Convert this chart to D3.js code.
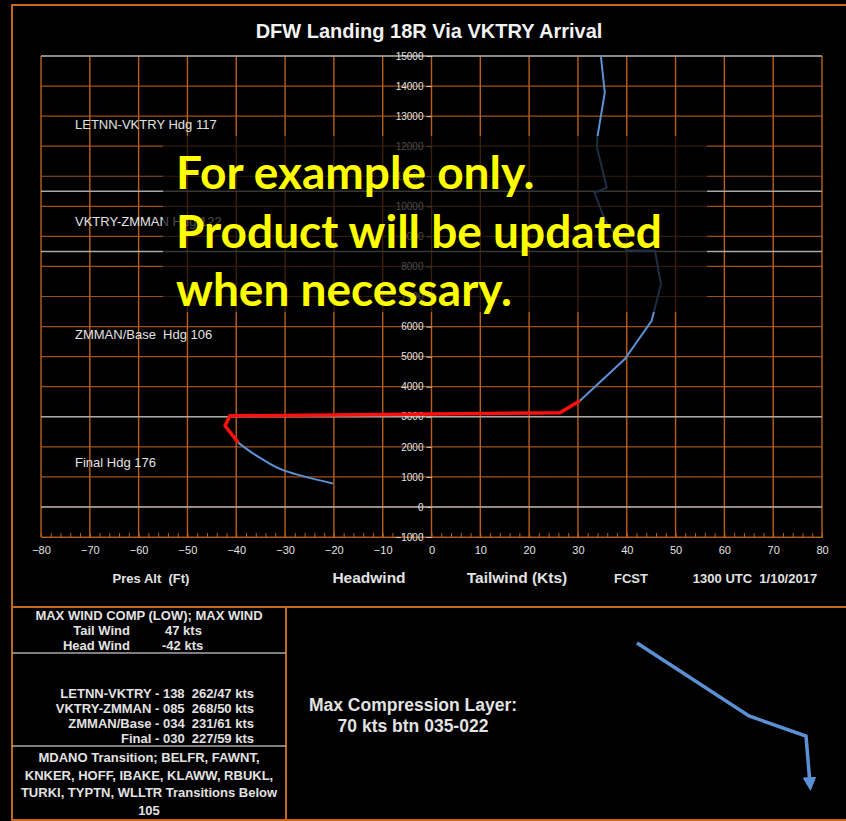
<!DOCTYPE html>
<html>
<head>
<meta charset="utf-8">
<script src="https://cdn.jsdelivr.net/npm/d3@7"></script>
<style>
  body { margin: 0; background: #000; }
  svg { display: block; font-family: "Liberation Sans", Arial, sans-serif; }
  text { white-space: pre; }
</style>
</head>
<body>
<svg id="chart"></svg>
<script>
const width = 846;
const height = 821;

// wind component profile, kts vs pressure altitude (ft)
const windKts = [34.7, 35.5, 34.0, 33.9, 35.9, 33.4, 35.6, 40.0, 45.8, 47.0, 45.1, 39.6, 30.4];
const windAlt = [15000, 13780, 12320, 11960, 10620, 10450, 9510, 8540, 8520, 7420, 6190, 4920, 3530];
const lowKts = [-39.6, -35.1, -30.0, -20.2];
const lowAlt = [2140, 1630, 1200, 780];
// max compression layer (red)
const compKts = [30.4, 26.3, -41.3, -42.3, -39.6];
const compAlt = [3530, 3130, 3030, 2700, 2140];

// layer boundaries and their names
const layerAlts = [15000, 10500, 8500, 3000, 0];
const layerNames = ["LETNN-VKTRY Hdg 117", "VKTRY-ZMMAN Hdg 122", "ZMMAN/Base  Hdg 106", "Final Hdg 176"];

const xTicks = d3.range(-80, 81, 10);
const xMinor = d3.range(-80, 81, 2);
const yTicks = d3.range(-1000, 15001, 1000);

const title = "DFW Landing 18R Via VKTRY Arrival";
const axisTitles = ["Pres Alt  (Ft)", "Headwind", "Tailwind (Kts)", "FCST", "1300 UTC  1/10/2017"];
const maxComp = ["MAX WIND COMP (LOW); MAX WIND"];
const maxNames = ["Tail Wind", "Head Wind"];
const maxVals = ["47 kts", "-42 kts"];
const legRows = ["LETNN-VKTRY - 138  262/47 kts", "VKTRY-ZMMAN - 085  268/50 kts", "ZMMAN/Base - 034  231/61 kts", "Final - 030  227/59 kts"];
const transRows = ["MDANO Transition; BELFR, FAWNT,", "KNKER, HOFF, IBAKE, KLAWW, RBUKL,", "TURKI, TYPTN, WLLTR Transitions Below", "105"];
const compText = ["Max Compression Layer:", "70 kts btn 035-022"];
const noteText = ["For example only.", "Product will be updated", "when necessary."];

const orange = "#c4671f";
const gridV = "#b9601c";
const gridH = "#9c521b";
const grey = "#a8a8a8";
const txt = "#e2e2e2";

const svg = d3.select("#chart")
    .attr("width", width)
    .attr("height", height);

svg.append("rect").attr("width", width).attr("height", height).attr("fill", "#000");

const x = d3.scaleLinear().domain([-80, 80]).range([41, 822]);
const y = d3.scaleLinear().domain([-1000, 15000]).range([537, 56]);

// frames
svg.append("rect")
    .attr("x", 12).attr("y", 5).attr("width", 850).attr("height", 815)
    .attr("fill", "none").attr("stroke", orange).attr("stroke-width", 2);
svg.append("line")
    .attr("x1", 12).attr("x2", width).attr("y1", 607).attr("y2", 607)
    .attr("stroke", orange).attr("stroke-width", 2);
svg.append("line")
    .attr("x1", 286).attr("x2", 286).attr("y1", 607).attr("y2", 820)
    .attr("stroke", orange).attr("stroke-width", 2);

svg.append("text")
    .attr("x", 429).attr("y", 38)
    .attr("text-anchor", "middle")
    .attr("fill", "#f2f2f2")
    .attr("font-size", 20).attr("font-weight", "bold")
    .text(title);

// grid
const plot = svg.append("g");
plot.selectAll("line.h")
    .data(yTicks)
    .join("line")
      .attr("class", "h")
      .attr("x1", x(-80)).attr("x2", x(80))
      .attr("y1", d => y(d)).attr("y2", d => y(d))
      .attr("stroke", gridH).attr("stroke-width", 1.2);
plot.selectAll("line.v")
    .data(xTicks)
    .join("line")
      .attr("class", "v")
      .attr("x1", d => x(d)).attr("x2", d => x(d))
      .attr("y1", y(15000)).attr("y2", y(-1000))
      .attr("stroke", gridV).attr("stroke-width", 1.4);
plot.selectAll("line.layer")
    .data(layerAlts)
    .join("line")
      .attr("class", "layer")
      .attr("x1", x(-80)).attr("x2", x(80))
      .attr("y1", d => y(d)).attr("y2", d => y(d))
      .attr("stroke", grey).attr("stroke-width", 1.5);

// minor ticks on bottom axis
plot.append("g")
    .attr("transform", `translate(0,${y(-1000)})`)
    .call(d3.axisBottom(x).tickValues(xMinor).tickSize(-4).tickFormat(""))
    .call(g => g.select(".domain").attr("stroke", gridV))
    .call(g => g.selectAll(".tick line").attr("stroke", gridV));

// x tick labels
plot.append("g")
    .attr("transform", `translate(0,${y(-1000)})`)
    .call(d3.axisBottom(x).tickValues(xTicks).tickSize(0).tickPadding(9))
    .call(g => g.select(".domain").remove())
    .call(g => g.selectAll("text")
        .attr("fill", txt).attr("font-size", 11)
        .attr("font-family", "Liberation Sans, Arial, sans-serif"));

// y axis at 0 kts
plot.append("g")
    .attr("transform", `translate(${x(0)},0)`)
    .call(d3.axisLeft(y).tickValues(yTicks).tickSize(5).tickPadding(3).tickFormat(d3.format("d")))
    .call(g => g.select(".domain").remove())
    .call(g => g.selectAll(".tick line").attr("stroke", "#cfcfcf"))
    .call(g => g.selectAll("text")
        .attr("fill", txt).attr("font-size", 10)
        .attr("font-family", "Liberation Sans, Arial, sans-serif"));

// layer names, centred in each band
plot.selectAll("text.layer")
    .data(layerNames)
    .join("text")
      .attr("class", "layer")
      .attr("x", 75)
      .attr("y", (d, i) => y((layerAlts[i] + layerAlts[i + 1]) / 2) + 5)
      .attr("fill", txt)
      .attr("font-size", 13)
      .text(d => d);

// profile lines
const line = d3.line()
    .x(d => x(d[0]))
    .y(d => y(d[1]));

plot.append("path")
    .datum(d3.zip(windKts, windAlt))
    .attr("d", line)
    .attr("fill", "none").attr("stroke", "#5b90d4").attr("stroke-width", 2);
plot.append("path")
    .datum(d3.zip(lowKts, lowAlt))
    .attr("d", line.curve(d3.curveMonotoneY))
    .attr("fill", "none").attr("stroke", "#5b90d4").attr("stroke-width", 2);
plot.append("path")
    .datum(d3.zip(compKts, compAlt))
    .attr("d", line.curve(d3.curveLinear))
    .attr("fill", "none").attr("stroke", "#ff1010").attr("stroke-width", 3.5)
    .attr("stroke-linejoin", "round");

// "for example only" overlay
svg.append("rect")
    .attr("x", 163).attr("y", 136).attr("width", 544).attr("height", 176)
    .attr("fill", "#000").attr("opacity", 0.68);
svg.selectAll("text.note")
    .data(noteText)
    .join("text")
      .attr("class", "note")
      .attr("x", 176)
      .attr("y", (d, i) => 189 + i * 58.5)
      .attr("fill", "#ffff00")
      .attr("font-family", "Lato, 'Open Sans', sans-serif")
      .attr("font-weight", "bold")
      .attr("font-size", 46)
      .text(d => d);

// axis titles
const titleX = [151, 369, 517, 631, 755];
svg.selectAll("text.axt")
    .data(axisTitles)
    .join("text")
      .attr("class", "axt")
      .attr("x", (d, i) => titleX[i])
      .attr("y", 583)
      .attr("text-anchor", "middle")
      .attr("fill", txt)
      .attr("font-weight", "bold")
      .attr("font-size", (d, i) => (i === 1 || i === 2) ? 15.5 : 13)
      .text(d => d);

// lower left table
const box = svg.append("g").attr("font-weight", "bold").attr("font-size", 13).attr("fill", txt);
box.append("text").attr("x", 149).attr("y", 620).attr("text-anchor", "middle").text(maxComp[0]);
box.selectAll("text.mn")
    .data(maxNames)
    .join("text")
      .attr("class", "mn")
      .attr("x", 130).attr("y", (d, i) => 635 + i * 15)
      .attr("text-anchor", "end")
      .text(d => d);
box.selectAll("text.mv")
    .data(maxVals)
    .join("text")
      .attr("class", "mv")
      .attr("x", (d, i) => i === 0 ? 165 : 162).attr("y", (d, i) => 635 + i * 15)
      .text(d => d);
svg.append("line").attr("x1", 12).attr("x2", 286).attr("y1", 653).attr("y2", 653)
    .attr("stroke", grey).attr("stroke-width", 1.5);
box.selectAll("text.leg")
    .data(legRows)
    .join("text")
      .attr("class", "leg")
      .attr("x", 254).attr("y", (d, i) => 698 + i * 15)
      .attr("text-anchor", "end")
      .text(d => d);
svg.append("line").attr("x1", 12).attr("x2", 286).attr("y1", 746).attr("y2", 746)
    .attr("stroke", grey).attr("stroke-width", 1.5);
box.selectAll("text.tr")
    .data(transRows)
    .join("text")
      .attr("class", "tr")
      .attr("x", 149).attr("y", (d, i) => 762 + i * 17.7)
      .attr("text-anchor", "middle")
      .text(d => d);

// right panel
svg.selectAll("text.comp")
    .data(compText)
    .join("text")
      .attr("class", "comp")
      .attr("x", 413).attr("y", (d, i) => 711 + i * 21)
      .attr("text-anchor", "middle")
      .attr("fill", txt)
      .attr("font-weight", "bold")
      .attr("font-size", 17.5)
      .text(d => d);

// approach path sketch
svg.append("defs").append("marker")
    .attr("id", "head")
    .attr("viewBox", "0 0 10 10")
    .attr("refX", 5).attr("refY", 5)
    .attr("markerWidth", 4).attr("markerHeight", 4)
    .attr("orient", "auto")
  .append("path")
    .attr("d", "M0,0L10,5L0,10z")
    .attr("fill", "#5b90d4");
svg.append("path")
    .attr("d", "M637,643L749,716L806,736L810,784")
    .attr("fill", "none")
    .attr("stroke", "#5b90d4").attr("stroke-width", 3.5)
    .attr("marker-end", "url(#head)");
</script>
</body>
</html>
